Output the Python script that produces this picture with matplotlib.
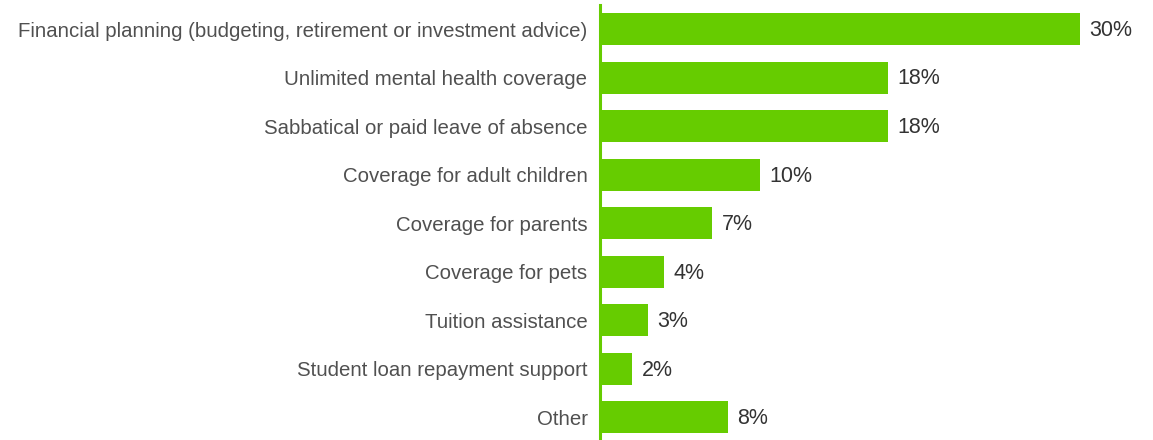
import matplotlib
matplotlib.use("Agg")
import matplotlib.pyplot as plt

categories = [
    "Financial planning (budgeting, retirement or investment advice)",
    "Unlimited mental health coverage",
    "Sabbatical or paid leave of absence",
    "Coverage for adult children",
    "Coverage for parents",
    "Coverage for pets",
    "Tuition assistance",
    "Student loan repayment support",
    "Other",
]
values = [30, 18, 18, 10, 7, 4, 3, 2, 8]

GREEN = "#66cc00"
LABEL_COLOR = "#505050"
VALUE_COLOR = "#333333"

plt.rcParams["font.family"] = ["Liberation Sans", "DejaVu Sans"]

W, H = 1153, 440
fig = plt.figure(figsize=(W / 100, H / 100), dpi=100)
left_px, right_px, top_px, bottom_px = 600, 1153, 5, 440
ax = fig.add_axes([left_px / W, 1 - bottom_px / H, (right_px - left_px) / W, (bottom_px - top_px) / H])

pos = list(range(len(categories)))
ax.barh(pos, values, height=0.66, color=GREEN, edgecolor="none")
ax.set_xlim(0, (right_px - left_px) / 16)
ax.set_ylim(8.47, -0.495)

for p, v in zip(pos, values):
    ax.text(v + 0.6, p + 0.03, f"{v}%", va="center", ha="left", fontsize=15.5, color=VALUE_COLOR)

ax.set_yticks(pos)
ax.set_yticklabels(categories, fontsize=14.7, color=LABEL_COLOR)
ax.tick_params(axis="y", length=0, pad=9)
ax.set_xticks([])
for s in ["top", "right", "bottom"]:
    ax.spines[s].set_visible(False)
ax.spines["left"].set_color(GREEN)
ax.spines["left"].set_linewidth(2.2)

fig.savefig("out.png", dpi=100)
